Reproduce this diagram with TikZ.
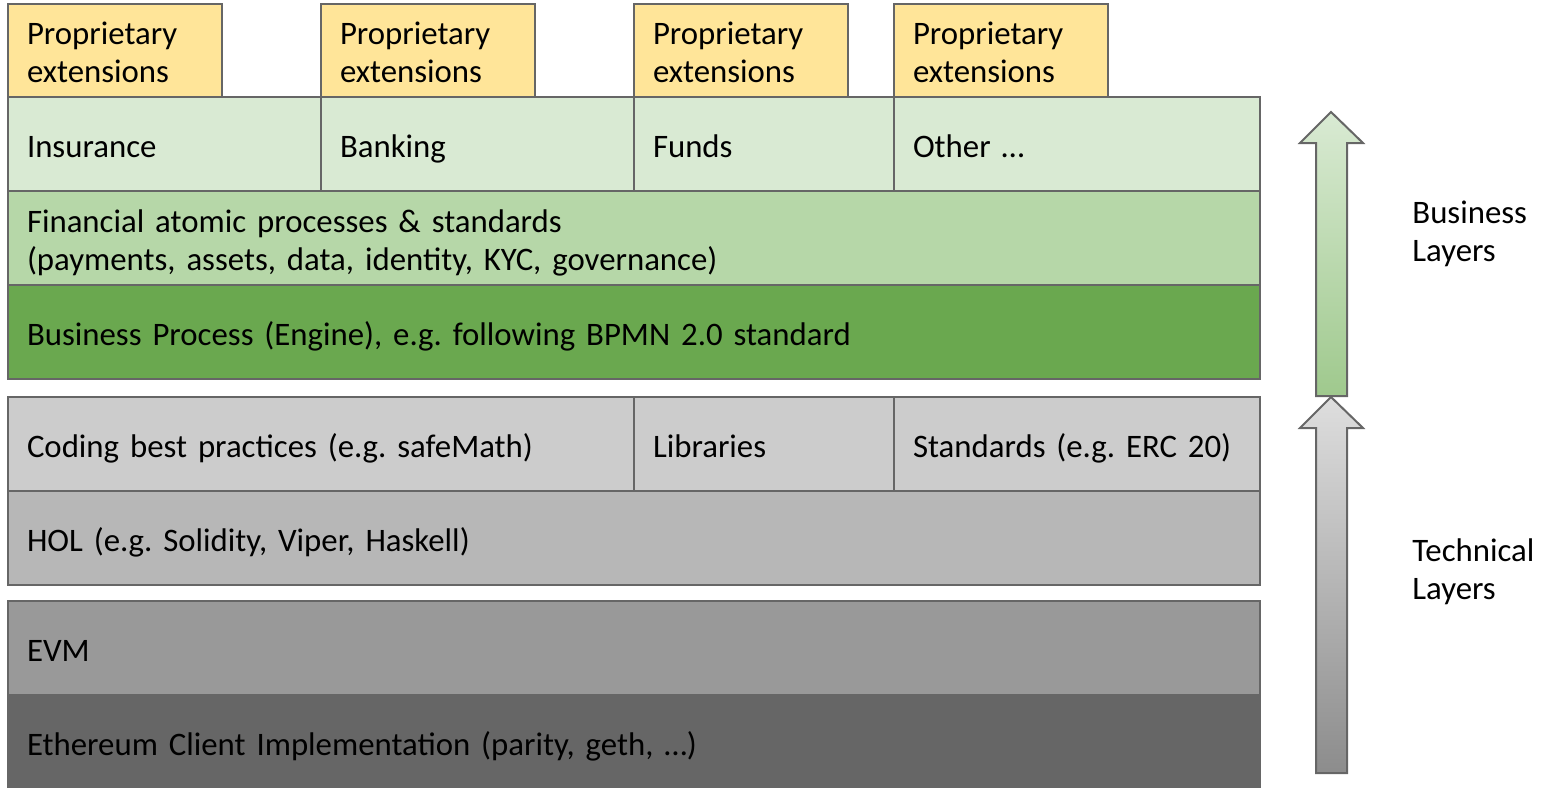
\documentclass[tikz,border=0pt]{standalone}
\usepackage{fontspec}
\setmainfont{Carlito}
\usetikzlibrary{positioning}
\definecolor{edgegray}{HTML}{666666}
\definecolor{extyellow}{HTML}{FFE599}
\definecolor{sectorgreen}{HTML}{D9EAD3}
\definecolor{atomgreen}{HTML}{B6D7A8}
\definecolor{enginegreen}{HTML}{6AA84F}
\definecolor{techA}{HTML}{CCCCCC}
\definecolor{techB}{HTML}{B7B7B7}
\definecolor{techC}{HTML}{999999}
\definecolor{techD}{HTML}{666666}
\newcommand{\cellstrutup}{\rule{0pt}{18pt}}
\newcommand{\cellstrutdown}{\rule[-5pt]{0pt}{5pt}}
\tikzset{cell/.style={rectangle, draw=edgegray, line width=1pt, inner xsep=9.5pt,
inner ysep=0pt, outer sep=0pt, align=left, minimum height=47pt,
font=\fontsize{16.4}{19}\selectfont, execute at begin node=\cellstrutup, execute at end node=\cellstrutdown},
ext/.style={cell, fill=extyellow, minimum height=46.5pt, minimum width=107pt, text width=88pt},
sector/.style={cell, fill=sectorgreen},
atom/.style={cell, fill=atomgreen},
engine/.style={cell, fill=enginegreen},
tecA/.style={cell, fill=techA},
tecB/.style={cell, fill=techB},
tecC/.style={cell, fill=techC},
tecD/.style={cell, fill=techD},
w260/.style={minimum width=130pt, text width=111pt},
w313/.style={minimum width=156.5pt, text width=137.5pt},
w366/.style={minimum width=183pt, text width=164pt},
w626/.style={minimum width=313pt, text width=294pt},
full/.style={minimum width=626pt, text width=607pt},
side/.style={inner sep=0pt, align=left, font=\fontsize{16.4}{19}\selectfont},
uparrow/.style={draw=edgegray, line width=1pt, line join=miter}}

\begin{document}
\frenchspacing
\begin{tikzpicture}[x=0.5pt, y=-0.5pt]
  \useasboundingbox (0,0) rectangle (1560,788);
  \node (ins) [sector, w313, anchor=north west] at (8,97) {Insurance};
  \node (bank) [sector, w313, right=0pt of ins] {Banking};
  \node (funds) [sector, w260, right=0pt of bank] {Funds};
  \node (other) [sector, w366, right=0pt of funds] {Other \dots};
  \node (ext1) [ext, anchor=south west] at (ins.north west) {Proprietary\\extensions};
  \node (ext2) [ext, anchor=south west] at (bank.north west) {Proprietary\\extensions};
  \node (ext3) [ext, anchor=south west] at (funds.north west) {Proprietary\\extensions};
  \node (ext4) [ext, anchor=south west] at (other.north west) {Proprietary\\extensions};
  \node (atomic) [atom, full, anchor=north west] at (ins.south west)
    {Financial atomic processes \& standards\\(payments, assets, data, identity, KYC, governance)};
  \node (bpmn) [engine, full, below=0pt of atomic]
    {Business Process (Engine), e.g. following BPMN 2.0 standard};

  \node (coding) [tecA, w626, anchor=north west] at (8,397) {Coding best practices (e.g. safeMath)};
  \node (libs) [tecA, w260, right=0pt of coding] {Libraries};
  \node (stds) [tecA, w366, right=0pt of libs] {Standards (e.g. ERC 20)};
  \node (hol) [tecB, full, anchor=north west] at (coding.south west) {HOL (e.g. Solidity, Viper, Haskell)};
  \node (evm) [tecC, full, anchor=north west] at (8,601) {EVM};
  \node (client) [tecD, full, below=0pt of evm] {Ethereum Client Implementation (parity, geth, \dots)};

  \shadedraw [uparrow, top color=sectorgreen, bottom color=atomgreen!70!enginegreen]
    (1331,112) -- (1363,143) -- (1347,143) -- (1347,396) -- (1316,396) -- (1316,143) -- (1300,143) -- cycle;
  \shadedraw [uparrow, top color=black!13, bottom color=black!45]
    (1331,397) -- (1363,428) -- (1347,428) -- (1347,773) -- (1316,773) -- (1316,428) -- (1300,428) -- cycle;
  \node (busl) [side, anchor=west] at (1412,234) {Business\\Layers};
  \node (techl) [side, anchor=west] at (1412,572) {Technical\\Layers};
\end{tikzpicture}
\end{document}
